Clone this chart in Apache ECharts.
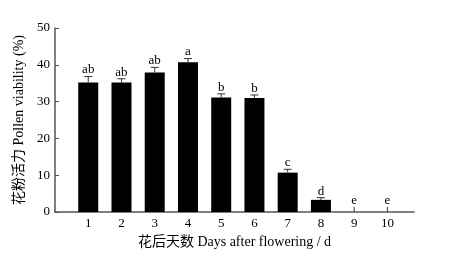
<!DOCTYPE html>
<html>
<head>
<meta charset="utf-8">
<script src="https://cdn.jsdelivr.net/npm/echarts@6/dist/echarts.min.js"></script>
<style>
  html, body { margin: 0; padding: 0; background: #fff; }
  #main { width: 452px; height: 266px; }
</style>
</head>
<body>
<div id="main"></div>
<script>
// data
const days = [1, 2, 3, 4, 5, 6, 7, 8, 9, 10];
const viability = [35.2, 35.2, 37.9, 40.7, 31.1, 31.0, 10.7, 3.3, 0, 0];
const errors = [1.6, 1.0, 1.4, 1.0, 1.0, 0.8, 0.9, 0.6, 1.4, 1.4];
const letters = ["ab", "ab", "ab", "a", "b", "b", "c", "d", "e", "e"];
const yTicks = [0, 10, 20, 30, 40, 50];

const serif = "'Liberation Serif', 'Noto Sans CJK SC', serif";
const axisColor = "#555";

var chart = echarts.init(document.getElementById("main"));

var barData = days.map(function (d, i) { return [d, viability[i]]; });
var errData = days.map(function (d, i) { return [d, viability[i], errors[i], i]; });

var option = {
  animation: false,
  grid: { left: 55, right: 38, top: 28, bottom: 54 },
  xAxis: {
    type: "value",
    min: 0,
    max: 10.8,
    interval: 1,
    name: "花后天数 Days after flowering / d",
    nameLocation: "middle",
    nameGap: 22,
    nameTextStyle: { fontFamily: serif, fontSize: 14, color: "#000" },
    axisLine: { lineStyle: { color: axisColor, width: 1.5 } },
    axisTick: { show: false },
    splitLine: { show: false },
    axisLabel: {
      fontFamily: serif, fontSize: 13, color: "#000", margin: 5,
      formatter: function (v) { return days.indexOf(v) >= 0 ? String(v) : ""; }
    }
  },
  yAxis: {
    type: "value",
    min: yTicks[0],
    max: yTicks[yTicks.length - 1],
    interval: 10,
    name: "花粉活力 Pollen viability (%)",
    nameLocation: "middle",
    nameGap: 28,
    nameTextStyle: { fontFamily: serif, fontSize: 14, color: "#000" },
    axisLine: { show: true, lineStyle: { color: axisColor, width: 1.5 } },
    axisTick: { show: true, inside: true, length: 4, lineStyle: { color: axisColor } },
    splitLine: { show: false },
    axisLabel: { fontFamily: serif, fontSize: 13, color: "#000", margin: 5 }
  },
  series: [
    {
      type: "bar",
      data: barData,
      barWidth: 20,
      itemStyle: { color: "#000" }
    },
    {
      type: "custom",
      data: errData,
      z: 5,
      renderItem: function (params, api) {
        var x = api.value(0), y = api.value(1), e = api.value(2), idx = api.value(3);
        var base = api.coord([x, y]);
        var top = api.coord([x, y + e]);
        var children = [
          { type: "line", shape: { x1: base[0], y1: base[1], x2: top[0], y2: top[1] },
            style: { stroke: "#333", lineWidth: 1 } }
        ];
        if (y > 0) {
          children.push({ type: "line", shape: { x1: top[0] - 4, y1: top[1], x2: top[0] + 4, y2: top[1] },
            style: { stroke: "#333", lineWidth: 1 } });
        }
        children.push({
          type: "text",
          style: {
            x: top[0], y: top[1],
            text: letters[idx],
            align: "center", verticalAlign: "bottom",
            font: "13px " + serif, fill: "#000"
          }
        });
        return { type: "group", children: children };
      }
    }
  ]
};

chart.setOption(option);
</script>
</body>
</html>
